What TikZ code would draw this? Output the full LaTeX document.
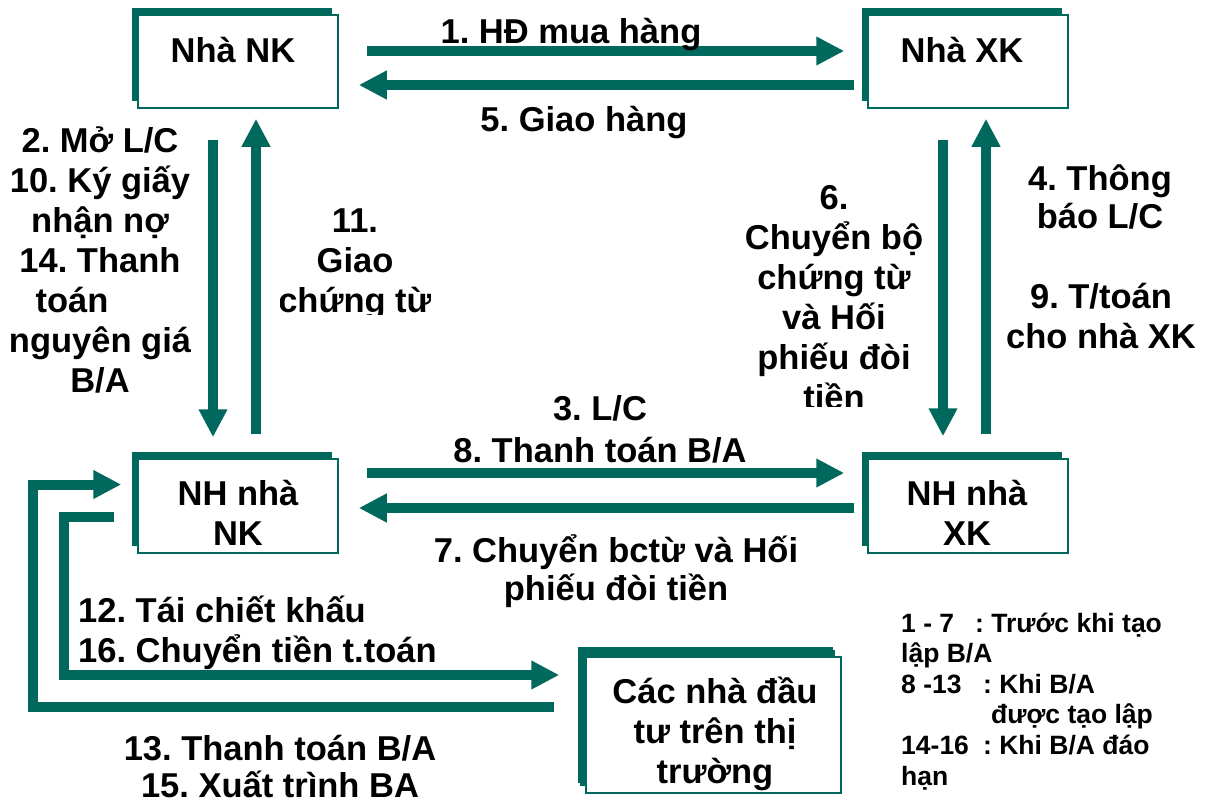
\documentclass[tikz,border=0pt]{standalone}
\usepackage{fontspec}
\setmainfont{Liberation Sans}
\usetikzlibrary{arrows.meta,shadows}
\definecolor{teal1}{RGB}{0,104,92}
\frenchspacing
\begin{document}
\begin{tikzpicture}[x=1pt,y=-1pt,
  box/.style={draw=teal1, line width=1.5pt, fill=white, inner sep=0pt,
    general shadow={fill=teal1, shadow xshift=-6pt, shadow yshift=7pt}},
  arr/.style={draw=teal1, line width=10pt, -{Triangle[length=28pt,width=27pt]}},
  lbl/.style={font=\bfseries\fontsize{34.5}{40}\selectfont, align=center, inner sep=0pt, anchor=base},
  lbll/.style={font=\bfseries\fontsize{34.5}{40}\selectfont, align=left, inner sep=0pt, anchor=base west},
  leg/.style={font=\bfseries\fontsize{26.5}{30.6}\selectfont, align=left, inner sep=0pt, anchor=base west}]
\useasboundingbox (0,0) rectangle (1211,803);

% boxes
\node[box, minimum width=200pt, minimum height=93pt] (nk) at (238,61.5) {};
\node[box, minimum width=200pt, minimum height=93pt] (xk) at (968,61.5) {};
\node[box, minimum width=200pt, minimum height=94pt] (bnk) at (238,506) {};
\node[box, minimum width=200pt, minimum height=94pt] (bxk) at (968,506) {};
\node[box, minimum width=255pt, minimum height=136pt,
  general shadow={fill=teal1, shadow xshift=-8pt, shadow yshift=10pt}] (inv) at (713.5,725) {};

\node[lbl] (tnk) at (233,62) {Nhà NK};
\node[lbl] (txk) at (962,62) {Nhà XK};
\node[lbl] (tbnk) at (238,545) {NH nhà\\NK};
\node[lbl] (tbxk) at (967,545) {NH nhà\\XK};
\node[lbl] (tinv) at (715,783) {Các nhà đầu\\tư trên thị\\trường};

% arrows
\draw[arr] ([xshift=28pt,yshift=10.5pt]nk.east) -- ([xshift=-23pt,yshift=10.5pt]xk.west);
\draw[arr] ([xshift=-13pt,yshift=-23.5pt]xk.west) -- ([xshift=20pt,yshift=-23.5pt]nk.east);
\draw[arr] ([xshift=28pt,yshift=33pt]bnk.east) -- ([xshift=-23pt,yshift=33pt]bxk.west);
\draw[arr] ([xshift=-13pt,yshift=-2pt]bxk.west) -- ([xshift=20pt,yshift=-2pt]bnk.east);
\draw[arr] ([xshift=-25pt,yshift=-31pt]nk.south) -- ([xshift=-25pt,yshift=21pt]bnk.north);
\draw[arr] ([xshift=18pt,yshift=24pt]bnk.north) -- ([xshift=18pt,yshift=-10pt]nk.south);
\draw[arr] ([xshift=-25pt,yshift=-31pt]xk.south) -- ([xshift=-25pt,yshift=22pt]bxk.north);
\draw[arr] ([xshift=18pt,yshift=24pt]bxk.north) -- ([xshift=18pt,yshift=-10pt]xk.south);
\draw[arr] ([xshift=-31pt,yshift=18pt]inv.west) -- ++(-521,0) |- ([xshift=-16pt,yshift=21.5pt]bnk.west);
\draw[arr] ([xshift=-23pt,yshift=-11pt]bnk.west) -- ++(-50,0) |- ([xshift=-26pt,yshift=50pt]inv.west);

% labels
\node[lbl] (l1) at (571,43) {1. HĐ mua hàng};
\node[lbl] (l5) at (584,131) {5. Giao hàng};
\node[lbl] (l2) at (100,392) {2. Mở L/C\\10. Ký giấy\\nhận nợ\\14. Thanh\\toán\kern56pt\\nguyên giá\\B/A};
\begin{scope}
\clip (280,190) rectangle (430,314);
\node[lbl] (l11) at (355,312) {11.\\Giao\\chứng từ};
\end{scope}
\begin{scope}
\clip (730,160) rectangle (940,406);
\node[lbl] (l6) at (834,409) {6.\\Chuyển bộ\\chứng từ\\và Hối\\phiếu đòi\\tiền};
\end{scope}
\node[lbl, font=\bfseries\fontsize{34.5}{38}\selectfont] (l4) at (1100,228) {4. Thông\\báo L/C};
\node[lbl] (l9) at (1101,348) {9. T/toán\\cho nhà XK};
\node[lbl, font=\bfseries\fontsize{34.5}{42}\selectfont] (l3) at (600,462) {3. L/C\\8. Thanh toán B/A};
\node[lbl, font=\bfseries\fontsize{34.5}{38}\selectfont] (l7) at (616,600) {7. Chuyển bctừ và Hối\\phiếu đòi tiền};
\node[lbll] (l12) at (78,662) {12. Tái chiết khấu\\16. Chuyển tiền t.toán};
\node[lbl, font=\bfseries\fontsize{34.5}{37}\selectfont] (l13) at (280,797) {13. Thanh toán B/A\\15. Xuất trình BA};

\node[leg] (leg) at (901,785) {\makebox[74pt][l]{1 - 7}: Trước khi tạo\\lập B/A\\\makebox[82pt][l]{8 -13}: Khi B/A\\\hspace*{90pt}được tạo lập\\\makebox[82pt][l]{14-16}: Khi B/A đáo\\hạn};
\end{tikzpicture}
\end{document}
